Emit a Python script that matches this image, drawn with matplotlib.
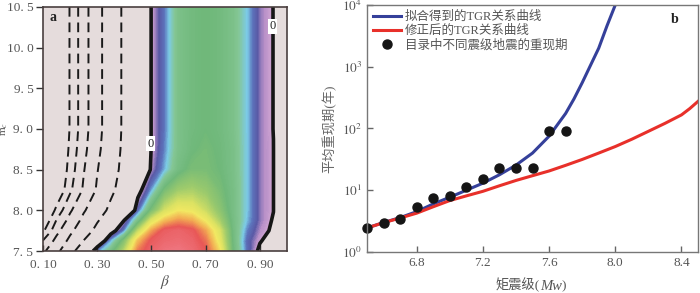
import numpy as np
import matplotlib
matplotlib.use('Agg')
import matplotlib.pyplot as plt
from matplotlib.colors import LinearSegmentedColormap
from matplotlib.offsetbox import TextArea, HPacker, AnchoredOffsetbox

# panel a: likelihood field on a beta x m_c grid
beta_nodes = [0.10, 0.15, 0.20, 0.25, 0.30, 0.35, 0.40, 0.45, 0.50, 0.55,
              0.60, 0.65, 0.70, 0.75, 0.80, 0.85, 0.90, 0.95, 1.00]
mc_rows = [7.5, 7.625, 7.75, 7.875, 8.0, 8.25, 8.5, 8.75, 9.0, 10.5]
field = [
    [-3.20, -2.20, -1.39, -0.30, 0.13, 0.32, 0.55, 0.85, 0.94, 0.98, 0.99, 0.96, 0.90, 0.72, 0.37, 0.13, -0.03, -0.49, -0.90],
    [-3.95, -2.70, -1.77, -0.98, -0.20, 0.16, 0.43, 0.76, 0.91, 0.95, 0.96, 0.94, 0.86, 0.66, 0.36, 0.12, 0.01, -0.06, -0.80],
    [-5.20, -3.29, -2.20, -1.43, -0.77, -0.08, 0.14, 0.55, 0.80, 0.92, 0.94, 0.91, 0.80, 0.62, 0.35, 0.15, 0.04, -0.02, -0.70],
    [-6.00, -3.94, -2.65, -1.75, -1.07, -0.53, 0.01, 0.30, 0.62, 0.76, 0.82, 0.79, 0.68, 0.52, 0.34, 0.19, 0.06, -0.01, -0.60],
    [-7.00, -4.67, -3.14, -2.10, -1.40, -0.81, -0.33, 0.10, 0.40, 0.60, 0.69, 0.67, 0.58, 0.46, 0.33, 0.20, 0.06, 0.002, -0.60],
    [-8.50, -6.11, -4.19, -2.86, -1.89, -1.17, -0.63, -0.06, 0.16, 0.40, 0.50, 0.52, 0.48, 0.41, 0.33, 0.20, 0.06, 0.002, -0.60],
    [-9.50, -6.56, -4.52, -3.06, -2.04, -1.33, -0.77, -0.33, 0.03, 0.18, 0.34, 0.41, 0.41, 0.38, 0.32, 0.20, 0.06, 0.002, -0.60],
    [-10.00, -6.88, -4.73, -3.26, -2.20, -1.43, -0.83, -0.39, 0.01, 0.15, 0.31, 0.37, 0.40, 0.37, 0.32, 0.20, 0.06, 0.002, -0.60],
    [-10.50, -7.10, -4.90, -3.39, -2.29, -1.49, -0.86, -0.42, 0.01, 0.14, 0.31, 0.36, 0.38, 0.36, 0.31, 0.20, 0.06, -0.002, -0.60],
    [-10.50, -7.10, -4.90, -3.39, -2.29, -1.49, -0.86, -0.42, 0.01, 0.14, 0.31, 0.36, 0.38, 0.36, 0.31, 0.20, 0.06, -0.002, -0.60],
]
neg_levels = [-5, -4, -3, -2, -1]

# panel b: recurrence periods
mw_obs = [6.5, 6.6, 6.7, 6.8, 6.9, 7.0, 7.1, 7.2, 7.3, 7.4, 7.5, 7.6, 7.7]
t_obs = [2.43, 3.0, 3.46, 5.3, 7.5, 8.2, 11.25, 15, 22.5, 22.5, 22.5, 90, 90]
mw_fit = [6.5, 6.6, 6.7, 6.8, 6.9, 7.0, 7.1, 7.2, 7.3, 7.4, 7.5, 7.6, 7.7, 7.75, 7.8, 7.85, 7.9, 7.95, 8.0]
t_fit = [2.45, 3.0, 3.6, 4.5, 6.0, 7.7, 10.0, 13.0, 17.8, 25.5, 40, 75, 175, 300, 550, 1050, 2000, 4600, 10000]
mw_mod = [6.5, 6.6, 6.7, 6.8, 6.9, 7.0, 7.1, 7.2, 7.3, 7.4, 7.5, 7.6, 7.7, 7.8, 7.9, 8.0, 8.1, 8.2, 8.3, 8.4, 8.45, 8.5]
t_mod = [2.45, 2.98, 3.55, 4.25, 5.4, 6.8, 8.1, 9.6, 11.8, 14.4, 17.2, 20.5, 25.3, 31.5, 40, 51, 67, 90, 121, 166, 210, 275]

cmap_nodes = [0.0, 0.04, 0.09, 0.14, 0.20, 0.27, 0.38, 0.50, 0.62, 0.70, 0.80, 0.90, 1.0]
cmap_colors = ['#d4a8d4', '#b890c8', '#5a5aa6', '#5c74bc', '#7ccbe6', '#84c694', '#6fb879',
               '#9cca6c', '#dce262', '#f2e862', '#f2aa52', '#e85656', '#ef7883']
cmap = LinearSegmentedColormap.from_list('tgr', list(zip(cmap_nodes, cmap_colors)))

plt.rcParams['font.family'] = ['Liberation Serif', 'Noto Sans CJK SC']
plt.rcParams['mathtext.fontset'] = 'stix'

fig = plt.figure(figsize=(7, 2.93), dpi=100)

# ---- a ----
ax1 = fig.add_axes([0.0614, 0.1433, 0.3486, 0.833])
ax1.set_facecolor('#e5dcdc')
cs = ax1.contourf(beta_nodes, mc_rows, field, levels=np.linspace(0, 1.0, 201), cmap=cmap)
cs.set_edgecolor('face')
cs.set_linewidth(0.4)
ax1.contour(beta_nodes, mc_rows, field, levels=neg_levels, colors='#1a1a1a',
            linewidths=1.4, linestyles=[(0, (5, 3))])
ax1.contour(beta_nodes, mc_rows, field, levels=[0], colors='#161616', linewidths=2.6)
ax1.set_xlim(0.1, 1.0)
ax1.set_ylim(7.5, 10.5)
ax1.set_xticks([0.1, 0.3, 0.5, 0.7, 0.9])
ax1.set_xticklabels(['0. 10', '0. 30', '0. 50', '0. 70', '0. 90'])
ax1.set_yticks([7.5, 8.0, 8.5, 9.0, 9.5, 10.0, 10.5])
ax1.set_yticklabels(['7. 5', '8. 0', '8. 5', '9. 0', '9. 5', '10. 0', '10. 5'])
ax1.tick_params(axis='x', direction='in', length=4, width=1, color='#333333', labelsize=9.5,
                labelcolor='#555555', pad=6)
ax1.tick_params(axis='y', direction='out', length=5, width=1, color='#333333', labelsize=9.5,
                labelcolor='#555555', pad=2)
for s in ax1.spines.values():
    s.set_color('#4a3f3f')
    s.set_linewidth(1.2)
ax1.set_xlabel(r'$\beta$', fontsize=11, color='#555555', labelpad=1)
ax1.set_ylabel(r'm$_c$', fontsize=8, color='#555555')
ax1.yaxis.set_label_coords(-0.135, 0.5)
ax1.text(0.025, 0.955, 'a', transform=ax1.transAxes, fontsize=10, fontweight='bold',
         ha='left', va='center', color='#222222')
for bx, my in [(0.497, 8.82), (0.946, 10.26)]:
    ax1.text(bx, my, '0', fontsize=9, ha='center', va='center', color='#222222',
             bbox=dict(facecolor='white', edgecolor='none', pad=1.2))

# ---- b ----
ax2 = fig.add_axes([0.5243, 0.140, 0.4729, 0.843])
ax2.plot(mw_fit, t_fit, color='#35409a', lw=2.2, label='拟合得到的TGR关系曲线')
ax2.plot(mw_mod, t_mod, color='#e8302a', lw=2.2, label='修正后的TGR关系曲线')
ax2.plot(mw_obs, t_obs, 'o', color='#151515', ms=6.5, label='目录中不同震级地震的重现期', clip_on=False)
ax2.set_yscale('log')
ax2.set_xlim(6.5, 8.5)
ax2.set_ylim(1, 1e4)
ax2.set_xticks([6.8, 7.2, 7.6, 8.0, 8.4])
ax2.set_xticklabels(['6.8', '7.2', '7.6', '8.0', '8.4'])
ax2.set_yticks([1, 10, 100, 1000, 10000])
ax2.set_yticklabels([r'$10^{0}$', r'$10^{1}$', r'$10^{2}$', r'$10^{3}$', r'$10^{4}$'])
ax2.minorticks_off()
ax2.tick_params(direction='in', length=4, width=1, color='#666666', labelsize=9.5,
                labelcolor='#555555')
for s in ax2.spines.values():
    s.set_color('#777777')
    s.set_linewidth(1.0)
ax2.set_ylabel('平均重现期(年)', fontsize=9.5, color='#666666', labelpad=4)

# x label with italic Mw
lab_props = dict(fontsize=9.5, color='#555555')
parts = [TextArea('矩震级(', textprops=lab_props),
         TextArea('Mw', textprops=dict(fontsize=10.5, color='#555555', style='italic')),
         TextArea(')', textprops=lab_props)]
xlab = AnchoredOffsetbox(loc='upper center', child=HPacker(children=parts, align='baseline', pad=0, sep=0),
                         pad=0, borderpad=0, frameon=False, bbox_to_anchor=(0.495, -0.105),
                         bbox_transform=ax2.transAxes)
ax2.add_artist(xlab)

ax2.text(0.93, 0.943, 'b', transform=ax2.transAxes, fontsize=10, fontweight='bold',
         ha='center', va='center', color='#222222')
leg = ax2.legend(loc='upper left', frameon=False, fontsize=9, handlelength=2.2,
                 handletextpad=0.3, labelspacing=0.15, borderaxespad=0.3, borderpad=0.2)
for t in leg.get_texts():
    t.set_color('#555555')

fig.savefig('out.png', dpi=100)
